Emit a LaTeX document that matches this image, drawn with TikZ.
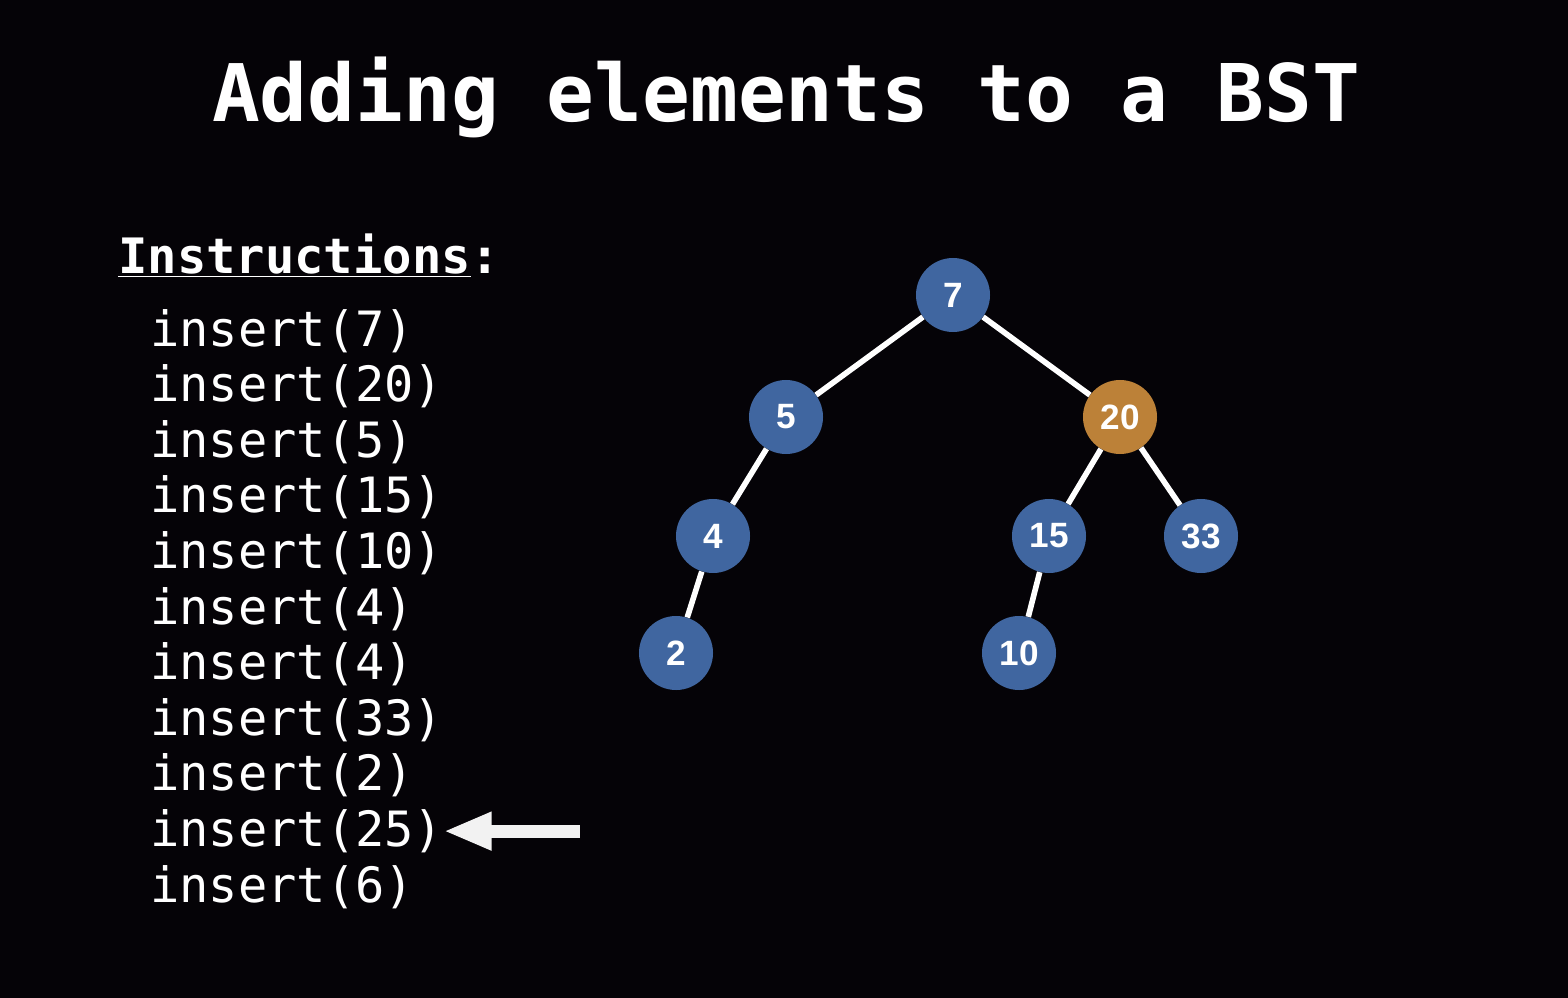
\documentclass[tikz,border=0pt]{standalone}
\usepackage{fontspec}
\setmonofont{DejaVu Sans Mono}
\setsansfont{Liberation Sans}
\usetikzlibrary{arrows.meta}
\definecolor{Ink}{HTML}{050307}
\definecolor{NodeBlue}{HTML}{4066A0}
\definecolor{NodeAmber}{HTML}{BC8138}
\definecolor{Chalk}{HTML}{F2F2F2}

\begin{document}
\begin{tikzpicture}[x=0.025cm,y=-0.025cm,
    bst/.style={circle,fill=NodeBlue,minimum size=1.85cm,inner sep=0pt,text=white,
                font=\sffamily\bfseries\fontsize{25}{25}\selectfont},
    fresh/.style={bst,fill=NodeAmber},
    edge/.style={white,line width=4pt},
    instr/.style={anchor=base west,inner sep=0pt,text=white,
                  font=\ttfamily\fontsize{34.6}{40}\selectfont},
    pointer/.style={Chalk,line width=0.32cm,-{Triangle[length=1.2cm,width=0.88cm]}}
  ]
    \fill[Ink] (0,0) rectangle (1568,998);
    \node[anchor=base,inner sep=0pt,text=white,font=\ttfamily\bfseries\fontsize{56.5}{60}\selectfont]
      (title) at (786,122) {Adding elements to a BST};
    \node[instr,font=\ttfamily\bfseries\fontsize{34.7}{40}\selectfont] (head) at (118,274) {\underline{Instructions}:};
    \foreach \v [count=\k] in {7,20,5,15,10,4,4,33,2,25,6}
      \node[instr] (i\k) at (150,{346+55.6*(\k-1)}) {insert(\v)};
    \node[bst] (n7) at (953,295) {7};
    \node[bst] (n5) at (786,417) {5};
    \node[fresh] (n20) at (1120,417) {20};
    \node[bst] (n4) at (713,536) {4};
    \node[bst] (n15) at (1049,536) {15};
    \node[bst] (n33) at (1201,536) {33};
    \node[bst] (n2) at (676,653) {2};
    \node[bst] (n10) at (1019,653) {10};
    \foreach \a/\b in {n7/n5,n7/n20,n5/n4,n4/n2,n20/n15,n20/n33,n15/n10}
      \draw[edge] (\a)--(\b);
    \coordinate (tail) at ([xshift=3.4cm]i10.east);
    \draw[pointer] (tail)--(i10.east);
\end{tikzpicture}
\end{document}
